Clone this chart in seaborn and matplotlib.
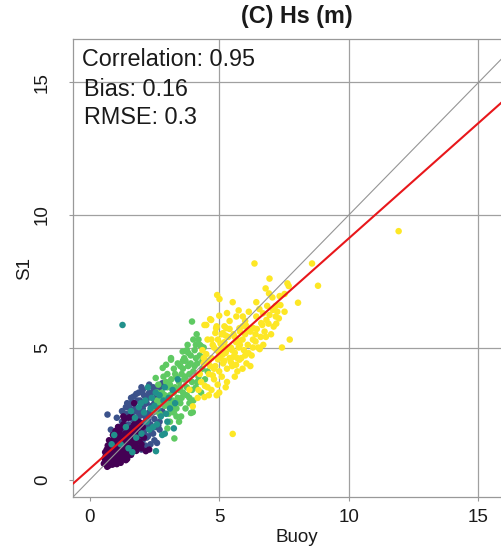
import numpy as np
import pandas as pd
import matplotlib
matplotlib.use("Agg")
import matplotlib.pyplot as plt
import seaborn as sns

# ---------------- data ----------------
buoy_g0 = [0.55, 0.6, 0.62, 0.65, 0.7, 0.7, 0.72, 0.75, 0.78, 0.8, 0.8, 0.82, 0.85, 0.88, 0.9, 0.9, 0.92, 0.95,
           0.98, 1.0, 1.0, 1.02, 1.05, 1.08, 1.1, 1.1, 1.12, 1.15, 1.18, 1.2, 1.2, 1.22, 1.25, 1.28, 1.3, 1.3,
           1.32, 1.35, 1.38, 1.4, 1.4, 1.42, 1.45, 1.48, 1.5, 1.5, 1.52, 1.55, 1.58, 1.6, 1.6, 1.65, 1.68, 1.7,
           1.72, 1.75, 1.8, 1.82, 1.85, 1.9, 1.95, 2.0, 2.05, 2.1, 2.17, 2.3, 1.3, 1.15, 1.72, 0.95, 1.6, 0.68,
           0.75, 0.88, 1.45, 1.05, 0.6, 0.58, 0.66, 1.35,
           0.65, 0.72, 0.78, 0.85, 0.92, 0.97, 1.03, 1.07, 1.13, 1.17, 1.23, 1.27, 1.33, 1.37, 1.43, 1.47,
           1.53, 1.57, 1.63, 1.67, 1.73, 1.77, 1.83, 1.88, 1.93, 0.8, 0.9, 1.0, 1.1, 1.2, 0.62, 0.7, 0.85,
           0.95, 1.05, 1.15, 1.25, 1.35, 1.45, 1.55,
           0.7, 0.9, 1.1, 1.3, 1.2, 1.4, 1.6, 1.8, 2.0, 1.0, 0.75, 1.5]
s1_g0 = [0.62, 0.75, 0.9, 0.68, 0.82, 1.0, 0.6, 0.95, 0.72, 1.1, 0.85, 0.65, 1.0, 0.78, 1.2, 0.92, 0.7, 1.05,
         0.85, 1.3, 0.95, 0.75, 1.15, 0.9, 1.4, 1.05, 0.8, 1.25, 0.95, 1.5, 1.1, 0.85, 1.35, 1.0, 1.6, 1.2,
         0.9, 1.45, 1.1, 1.7, 1.3, 0.95, 1.55, 1.2, 1.85, 1.4, 1.05, 1.65, 1.3, 1.95, 1.5, 1.15, 1.75, 1.4,
         2.1, 1.6, 1.25, 1.9, 1.5, 2.2, 1.7, 1.35, 2.0, 1.6, 1.09, 1.15, 2.1, 1.8, 2.9, 1.45, 2.4, 0.5,
         0.55, 0.58, 0.8, 0.6, 1.05, 0.82, 1.15, 2.3,
         0.95, 0.78, 1.2, 0.7, 1.1, 0.66, 1.2, 1.35, 1.1, 0.72, 1.6, 1.25, 1.05, 1.75, 1.4, 1.0,
         1.55, 1.9, 1.35, 2.0, 1.7, 1.3, 2.05, 1.8, 1.45, 1.35, 1.5, 1.65, 1.6, 1.95, 0.6, 0.68, 0.88,
         0.8, 0.98, 0.9, 1.15, 1.25, 1.3, 1.2,
         1.3, 1.7, 2.0, 2.4, 0.65, 0.75, 0.95, 1.1, 1.2, 1.85, 1.5, 2.35]

buoy_g1 = [0.69, 0.82, 1.0, 1.1, 1.2, 1.25, 1.3, 1.35, 1.4, 1.45, 1.5, 1.55, 1.55, 1.6, 1.65, 1.7, 1.7, 1.75,
           1.8, 1.8, 1.85, 1.9, 1.95, 1.95, 2.0, 2.05, 2.05, 2.1, 2.1, 2.15, 2.2, 2.2, 2.25, 2.3, 2.3, 2.35,
           2.4, 2.4, 2.45, 2.5, 2.5, 2.55, 2.55, 2.6, 2.65, 2.7, 2.7, 2.75, 2.8, 1.45, 1.25, 1.9, 2.0, 1.15,
           1.38, 2.35, 2.6, 1.6, 1.85, 2.25, 2.45, 2.15, 1.05, 1.7, 2.0,
           1.5, 1.6, 1.75, 1.85, 2.0, 2.1, 2.25, 2.35, 2.5, 2.6, 2.4, 2.15, 1.9, 1.65, 2.7, 2.8,
           2.2, 2.45, 2.65, 1.4, 1.6, 1.8, 2.05, 2.3]
s1_g1 = [2.47, 1.9, 1.6, 2.0, 1.7, 2.2, 1.45, 1.9, 2.5, 1.6, 2.1, 2.7, 1.35, 1.8, 2.3, 2.9, 1.5, 2.0,
         2.6, 1.25, 1.7, 2.4, 3.0, 1.9, 2.15, 2.7, 1.5, 3.2, 1.8, 2.4, 2.0, 2.9, 1.65, 2.55, 3.3, 2.1,
         1.8, 2.8, 3.5, 2.3, 1.5, 2.0, 3.0, 2.6, 3.4, 1.9, 2.2, 2.9, 3.65, 2.9, 2.6, 3.3, 3.5, 1.3,
         1.2, 1.35, 1.4, 2.05, 2.15, 2.25, 2.55, 1.3, 2.35, 3.15, 1.15,
         2.4, 2.9, 2.7, 3.0, 2.45, 2.85, 3.1, 2.45, 2.9, 3.2, 3.3, 2.2, 2.55, 2.5, 3.5, 2.6,
         1.6, 1.75, 2.05, 2.75, 3.1, 3.25, 3.4, 3.6]

buoy_g2 = [1.27, 2.56, 0.95, 1.98, 1.5, 1.6, 1.75, 1.8, 1.9, 2.0, 2.1, 2.15, 2.2, 2.3, 2.35, 2.4, 2.45, 2.5,
           2.55, 2.6, 2.65, 2.7, 2.75, 2.8, 2.85, 2.9, 2.95, 3.0, 3.05, 3.1, 3.2, 3.25, 3.3, 1.2, 1.4, 0.85,
           1.65, 2.9, 3.4, 2.25]
s1_g2 = [5.85, 1.09, 1.7, 2.9, 1.2, 2.6, 2.35, 1.6, 2.75, 1.75, 2.55, 3.0, 2.2, 1.9, 2.7, 3.1, 2.0, 2.8,
         3.3, 2.1, 2.7, 3.2, 2.4, 1.7, 3.0, 3.5, 2.5, 2.2, 3.1, 2.7, 3.4, 1.95, 2.9, 1.35, 2.0, 1.35,
         1.05, 1.75, 3.8, 3.5]

buoy_g3 = [3.95, 4.13, 3.78, 4.1, 4.3, 3.59, 3.14, 2.82, 2.95, 3.14, 3.27, 3.98, 3.91, 3.53, 2.5, 2.6, 2.65,
           2.7, 2.8, 2.85, 2.9, 3.0, 3.0, 3.05, 3.1, 3.15, 3.2, 3.25, 3.3, 3.35, 3.4, 3.4, 3.45, 3.5, 3.55,
           3.6, 3.65, 3.7, 3.7, 3.75, 3.8, 3.85, 3.9, 3.95, 4.0, 4.0, 4.05, 4.1, 4.15, 4.2, 4.25, 4.3, 4.35,
           4.4, 4.45, 4.5, 4.55, 3.2, 3.5, 3.6, 3.35, 2.75, 3.85, 3.0, 3.1, 3.75, 2.55, 4.2, 3.45,
           2.9, 3.1, 3.3, 3.5, 3.7, 3.9, 4.1, 3.25, 3.45, 3.65, 3.85, 4.05, 3.15, 3.35, 3.55, 3.75, 3.95,
           4.15, 4.35, 4.25, 4.0, 3.8, 3.6, 2.95, 2.7, 2.6, 3.05, 3.25]
s1_g3 = [5.98, 5.5, 5.1, 5.1, 5.05, 4.85, 4.54, 4.23, 4.35, 4.6, 1.57, 2.56, 2.53, 2.4, 2.6, 3.0, 3.6,
         2.5, 3.3, 3.9, 2.8, 3.5, 4.0, 2.5, 3.2, 3.8, 2.8, 4.2, 3.5, 2.4, 3.1, 4.4, 3.7, 2.9, 4.0,
         3.3, 4.6, 2.7, 3.9, 3.5, 4.3, 3.1, 4.7, 3.7, 4.1, 3.0, 4.9, 3.5, 4.4, 3.9, 4.7, 3.3, 4.2,
         5.0, 3.8, 4.5, 4.1, 3.0, 3.5, 4.2, 3.9, 3.1, 2.9, 1.95, 2.2, 4.9, 3.85, 5.3, 2.2,
         3.2, 3.6, 4.0, 4.3, 4.5, 4.4, 4.6, 3.3, 3.4, 3.8, 4.0, 4.3, 2.6, 2.7, 3.1, 3.2, 3.4,
         3.7, 4.5, 5.1, 5.3, 4.8, 4.5, 3.7, 2.9, 3.3, 2.9, 2.55]

buoy_g4 = [5.52, 11.92, 8.58, 6.36, 8.81, 6.94, 7.63, 7.68, 8.04, 6.79, 6.92, 4.92, 5.01, 5.52, 6.43, 7.05,
           7.33, 7.52, 7.18, 7.36, 7.52, 7.07, 6.85, 6.69, 6.94, 7.18, 7.24, 6.43, 6.14, 5.91, 5.66, 4.65,
           4.43, 6.66, 6.82, 7.1, 6.32, 6.04, 5.78, 5.27, 5.14, 4.88, 7.72, 7.42, 6.56, 4.5, 4.69, 4.17,
           4.43, 4.94, 3.85, 6.13, 5.78, 6.56, 6.4, 6.75, 6.62, 3.98,
           4.6, 4.7, 4.75, 4.8, 4.85, 4.9, 4.95, 5.0, 5.05, 5.1, 5.1, 5.15, 5.2, 5.25, 5.3, 5.35, 5.4,
           5.45, 5.5, 5.55, 5.6, 5.65, 5.7, 5.75, 5.8, 5.85, 5.9, 5.95, 6.0, 6.05, 6.1, 6.2, 6.25, 6.3,
           6.45, 6.5, 4.55, 4.65, 4.6, 4.7, 4.75, 4.5, 4.4, 4.3, 4.25, 4.35, 4.2, 5.0, 5.3, 5.6, 5.9,
           6.2, 4.85, 5.2, 5.4, 5.0, 6.0, 6.6, 6.9, 7.0, 5.35, 5.55, 5.75, 4.95, 5.15, 5.45, 5.65,
           5.05, 5.25, 4.8,
           4.6, 4.7, 4.8, 4.9, 5.0, 5.1, 5.2, 5.3, 5.4, 5.5, 5.6, 5.7, 5.8, 5.9, 6.0, 6.1, 6.3, 6.4,
           6.7, 6.8, 7.2, 7.3, 6.55, 5.75, 5.3, 4.55, 4.4, 4.45, 4.9, 5.25]
s1_g4 = [1.74, 9.39, 8.17, 8.17, 7.33, 7.6, 7.42, 7.32, 6.69, 7.23, 7.04, 6.98, 6.83, 6.71, 6.71, 6.89,
         6.94, 7.02, 6.57, 6.6, 6.35, 6.42, 6.57, 6.29, 6.23, 6.17, 6.35, 6.17, 6.35, 6.17, 6.17, 6.07,
         5.85, 5.85, 6.04, 5.79, 5.73, 5.82, 5.73, 5.73, 5.54, 5.73, 5.3, 5.0, 4.94, 5.85, 6.04, 3.1,
         3.13, 3.6, 3.41, 4.79, 4.54, 4.98, 5.23, 5.6, 5.92, 2.78,
         4.0, 4.6, 5.1, 3.8, 4.3, 4.9, 5.3, 4.1, 4.6, 5.0, 3.9, 4.4, 5.2, 4.8, 4.2, 5.4, 4.6,
         5.0, 4.3, 5.5, 4.8, 5.2, 4.1, 5.0, 5.6, 4.6, 5.3, 4.9, 5.5, 4.4, 5.1, 5.6, 4.7, 5.3,
         5.7, 5.0, 3.5, 4.3, 3.2, 3.4, 3.95, 4.75, 4.4, 3.7, 4.0, 4.9, 3.4, 3.3, 3.7, 3.9, 4.2,
         4.3, 5.55, 5.8, 6.0, 6.2, 6.0, 5.4, 5.9, 5.5, 4.95, 4.65, 5.25, 4.55, 4.75, 4.45, 4.35,
         5.15, 5.45, 5.0,
         4.5, 5.3, 4.2, 5.8, 4.8, 5.5, 4.5, 5.0, 5.7, 4.9, 5.4, 4.6, 5.1, 5.8, 4.7, 5.7, 5.0, 5.5,
         5.1, 5.4, 5.9, 6.1, 6.45, 6.4, 6.3, 5.3, 4.6, 3.55, 3.2, 3.5]

group_levels = ["g0", "g1", "g2", "g3", "g4"]
group_colors = ["#440154", "#3b528b", "#21918c", "#5ec962", "#fde725"]
draw_order = ["g1", "g0", "g3", "g4", "g2"]

fit_intercept = 0.42
fit_slope = 0.87

stats_labels = ["Correlation: 0.95", "Bias: 0.16", "RMSE: 0.3"]
ticks = [0, 5, 10, 15]
axis_lim = (-0.64, 16.64)

# ---------------- build table ----------------
groups = dict(zip(group_levels, zip([buoy_g0, buoy_g1, buoy_g2, buoy_g3, buoy_g4],
                                    [s1_g0, s1_g1, s1_g2, s1_g3, s1_g4])))
frames = [pd.DataFrame({"Buoy": groups[g][0], "S1": groups[g][1], "group": g}) for g in draw_order]
df = pd.concat(frames, ignore_index=True)

# ---------------- plot ----------------
sns.set_style("white")
plt.rcParams["font.family"] = ["Liberation Sans", "DejaVu Sans"]

fig = plt.figure(figsize=(5.01, 5.49), dpi=100)
W, H = 501, 549
ax = fig.add_axes([73 / W, (H - 497) / H, (521 - 73) / W, (497 - 39) / H])

sns.scatterplot(data=df, x="Buoy", y="S1", hue="group", hue_order=group_levels,
                palette=dict(zip(group_levels, group_colors)), s=22, linewidth=0,
                legend=False, ax=ax, zorder=3)

ax.set_xlim(*axis_lim)
ax.set_ylim(*axis_lim)

ax.axline((0, 0), slope=1, color="#959595", lw=0.8, zorder=4)
ax.axline((0, fit_intercept), slope=fit_slope, color="#e8171b", lw=1.5, zorder=5)

ax.set_xticks(ticks)
ax.set_yticks(ticks)
ax.grid(True, color="#a0a0a0", lw=0.9, zorder=1)
ax.set_axisbelow(True)
ax.get_xgridlines()[0].set_visible(False)
ax.get_ygridlines()[0].set_visible(False)

for side in ["left", "bottom", "top"]:
    ax.spines[side].set_color("#999999")
    ax.spines[side].set_linewidth(0.9)
ax.spines["right"].set_visible(False)

ax.tick_params(axis="both", direction="out", length=3, width=0.8, color="#999999",
               labelsize=13.5, labelcolor="#1a1a1a")
ax.tick_params(axis="x", pad=6, bottom=True)
ax.tick_params(axis="y", pad=13, left=True, labelrotation=90)
for lab in ax.get_yticklabels():
    lab.set_va("center")

ax.set_xlabel("Buoy", fontsize=13.5, color="#1a1a1a", va="center")
ax.set_ylabel("S1", fontsize=13.5, color="#1a1a1a", va="center")
ax.xaxis.set_label_coords(0.5, -(537 - 497) / 458)
ax.yaxis.set_label_coords(-(73 - 25) / 448, 0.5)

fig.text(297 / W, 1 - 17 / H, "(C) Hs (m)", fontsize=16.8, fontweight="bold",
         ha="center", va="center", color="#1a1a1a")

for lbl, xpx, ypx in zip(stats_labels, [82, 84, 84], [66.5, 95.5, 124]):
    fig.text(xpx / W, 1 - ypx / H, lbl, fontsize=16.8, ha="left", va="baseline", color="#1a1a1a")

fig.savefig("out.png", dpi=100)
